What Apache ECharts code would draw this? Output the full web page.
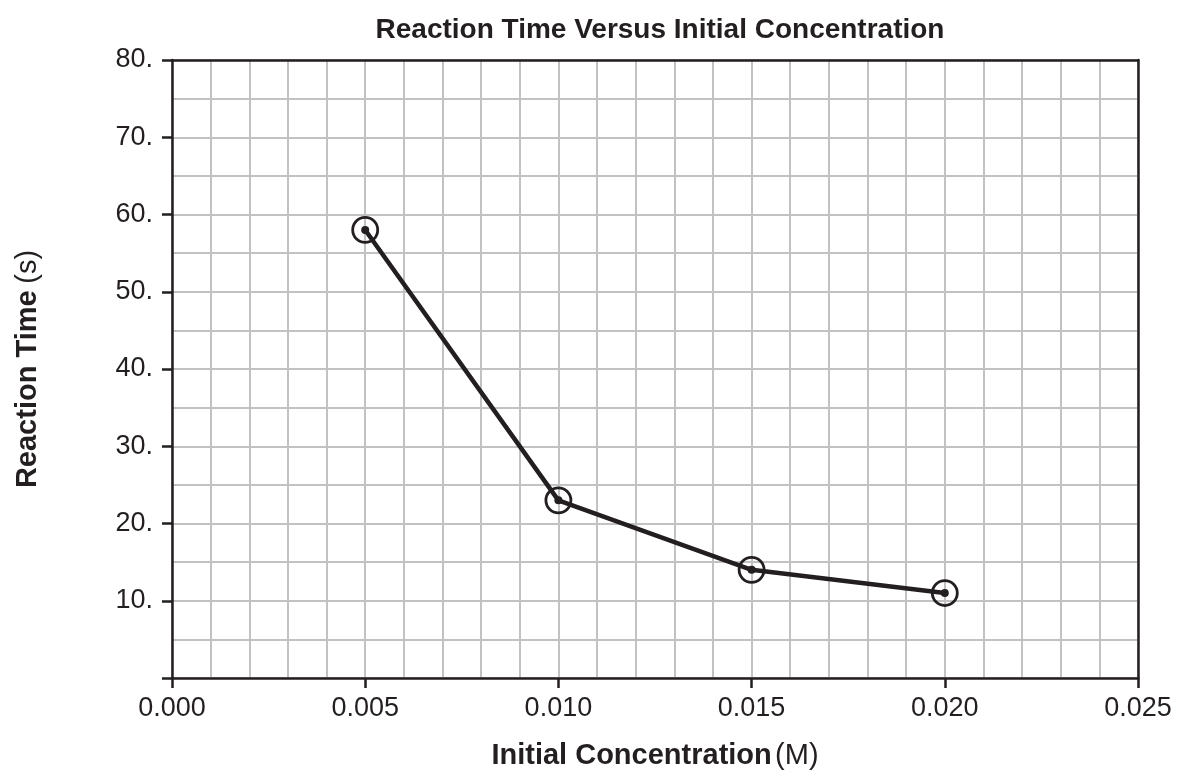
<!DOCTYPE html>
<html>
<head>
<meta charset="utf-8">
<script src="https://cdn.jsdelivr.net/npm/echarts@6/dist/echarts.min.js"></script>
<style>html,body{margin:0;padding:0;background:#fff;}#c{width:1177px;height:773px;}</style>
</head>
<body>
<div id="c"></div>
<script>
const concentration = [0.005, 0.010, 0.015, 0.020];
const reactionTime = [58, 23, 14, 11];
const xTicks = [0, 0.005, 0.010, 0.015, 0.020, 0.025];
const yTicks = [10, 20, 30, 40, 50, 60, 70, 80];

const points = concentration.map((c, i) => [c, reactionTime[i]]);
const ink = '#231f20';
const gridGrey = '#c2c2c5';
const font = '"Liberation Sans", Arial, Helvetica, sans-serif';

const chart = echarts.init(document.getElementById('c'));
chart.setOption({
  animation: false,
  backgroundColor: '#fff',
  title: {
    text: 'Reaction Time Versus Initial Concentration',
    left: 655, top: 11, textAlign: 'center',
    textStyle: {fontFamily: font, fontSize: 28, fontWeight: 'bold', color: ink}
  },
  grid: {left: 172, right: 39, top: 60, bottom: 95, containLabel: false, outerBoundsMode: 'none'},
  xAxis: [{
    type: 'value', min: 0, max: 0.025, interval: 0.005,
    name: '{b|Initial Concentration} {n|(M)}',
    nameLocation: 'middle', nameGap: 63,
    nameTextStyle: {rich: {
      b: {fontFamily: font, fontSize: 29, fontWeight: 'bold', color: ink},
      n: {fontFamily: font, fontSize: 29, color: ink}
    }},
    axisLine: {show: true, onZero: false, lineStyle: {color: ink, width: 2.5}},
    axisTick: {show: true, length: 10, lineStyle: {color: ink, width: 2.5}},
    axisLabel: {margin: 17, fontFamily: font, fontSize: 27, color: ink,
      formatter: v => xTicks.some(t => Math.abs(t - v) < 1e-9) ? v.toFixed(3) : ''},
    splitLine: {show: true, lineStyle: {color: gridGrey, width: 2}},
    minorTick: {show: false, splitNumber: 5},
    minorSplitLine: {show: true, lineStyle: {color: gridGrey, width: 2}}
  }, {
    type: 'value', position: 'top', min: 0, max: 0.025,
    axisLine: {show: true, onZero: false, lineStyle: {color: ink, width: 2.5}},
    axisTick: {show: false}, axisLabel: {show: false}, splitLine: {show: false}
  }],
  yAxis: [{
    type: 'value', min: 0, max: 80, interval: 10,
    name: '{b|Reaction Time}  {n|(s)}',
    nameLocation: 'middle', nameGap: 130, nameRotate: 90,
    nameTextStyle: {rich: {
      b: {fontFamily: font, fontSize: 29, fontWeight: 'bold', color: ink},
      n: {fontFamily: font, fontSize: 29, color: ink}
    }},
    axisLine: {show: true, onZero: false, lineStyle: {color: ink, width: 2.5}},
    axisTick: {show: true, length: 10, lineStyle: {color: ink, width: 2.5}},
    axisLabel: {margin: 19, fontFamily: font, fontSize: 27, color: ink,
      formatter: v => yTicks.indexOf(v) >= 0 ? v + '.' : ''},
    splitLine: {show: true, lineStyle: {color: gridGrey, width: 2}},
    minorTick: {show: false, splitNumber: 2},
    minorSplitLine: {show: true, lineStyle: {color: gridGrey, width: 2}}
  }, {
    type: 'value', position: 'right', min: 0, max: 80,
    axisLine: {show: true, onZero: false, lineStyle: {color: ink, width: 2.5}},
    axisTick: {show: false}, axisLabel: {show: false}, splitLine: {show: false}
  }],
  series: [{
    type: 'line', data: points, xAxisIndex: 0, yAxisIndex: 0,
    lineStyle: {color: ink, width: 4.5},
    symbol: 'circle', symbolSize: 8,
    itemStyle: {color: ink, opacity: 1},
    z: 3
  }, {
    type: 'scatter', data: points, xAxisIndex: 0, yAxisIndex: 0,
    symbol: 'circle', symbolSize: 25,
    itemStyle: {color: 'rgba(0,0,0,0)', borderColor: ink, borderWidth: 2.8, opacity: 1},
    z: 4
  }]
});
</script>
</body>
</html>
